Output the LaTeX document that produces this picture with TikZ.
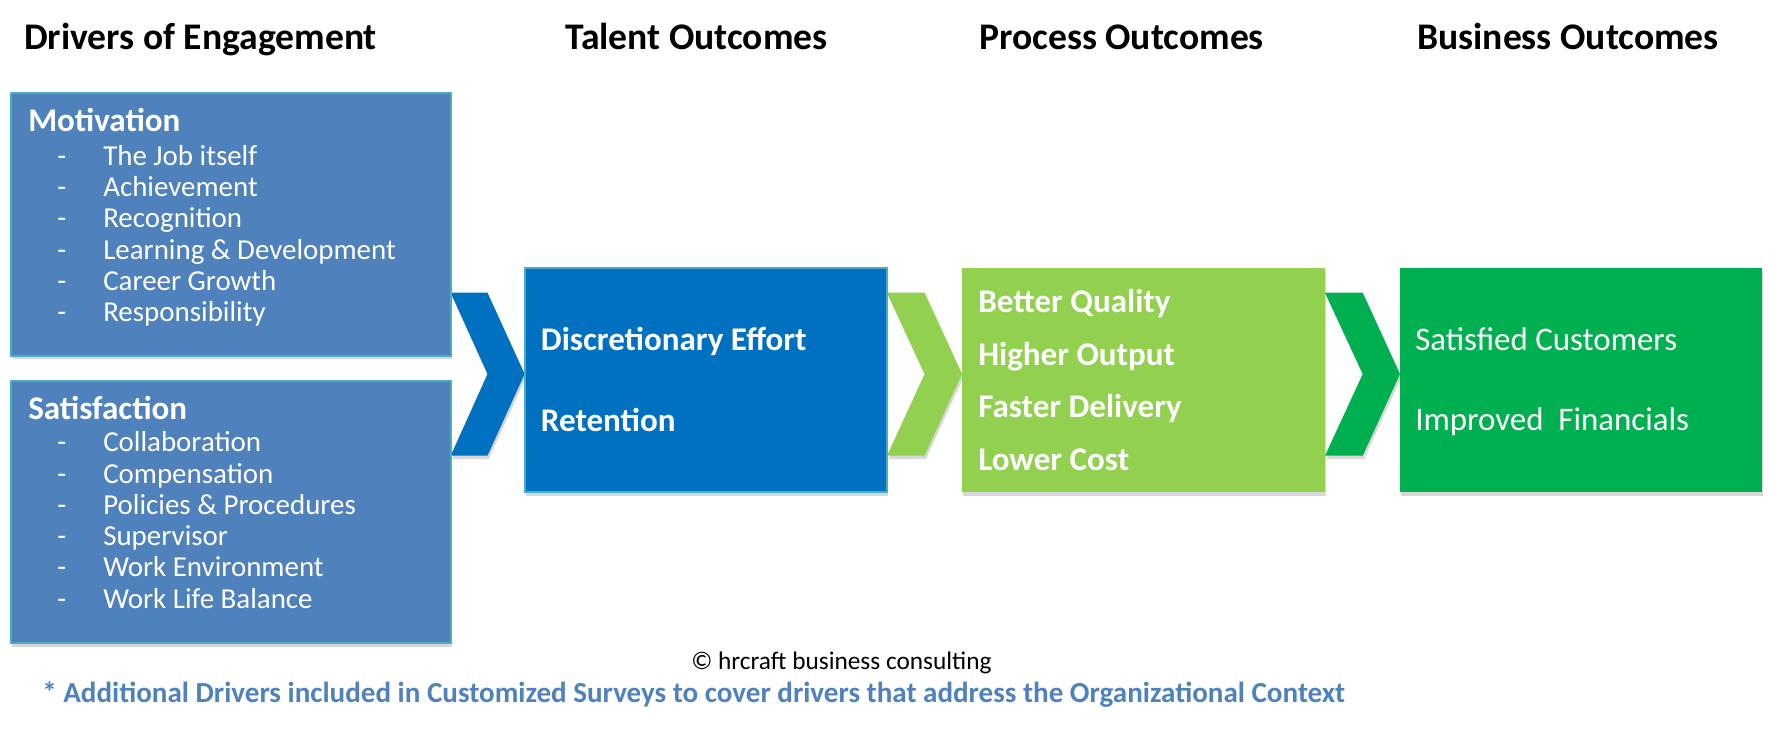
\documentclass[tikz,border=0pt]{standalone}
\usepackage{fontspec}
\setmainfont{Carlito}
\usetikzlibrary{fit,shadows}
\definecolor{motblue}{HTML}{4F81BD}
\definecolor{edgecyan}{HTML}{4BACC6}
\definecolor{talblue}{HTML}{0070C0}
\definecolor{procgreen}{HTML}{92D050}
\definecolor{busgreen}{HTML}{00B050}
\begin{document}
\begin{tikzpicture}[x=0.75pt,y=-0.75pt,
  shade/.style={drop shadow={shadow xshift=1pt, shadow yshift=-2.5pt, opacity=0.3}},
  cbox/.style={draw=edgecyan, line width=1.5pt, inner sep=0pt, shade},
  gbox/.style={draw=none, inner sep=0pt, shade},
  chev/.style={shade},
  lbl/.style={anchor=base west, inner sep=0pt, text=white},
  title/.style={anchor=base west, inner sep=0pt, font=\bfseries\fontsize{28.2}{33}\selectfont},
  head/.style={lbl, font=\bfseries\fontsize{24.8}{29}\selectfont},
  item/.style={lbl, font=\fontsize{21.7}{26}\selectfont},
  big/.style={lbl, font=\bfseries\fontsize{24.8}{29}\selectfont},
  bigr/.style={lbl, font=\fontsize{24.7}{29}\selectfont}]
\useasboundingbox (0,0) rectangle (1769,728);
\fill[white] (0,0) rectangle (1769,728);

% titles
\node[title] (t1) at (24,49) {Drivers of Engagement};
\node[title] (t2) at (565,49) {Talent Outcomes};
\node[title] (t3) at (979,49) {Process Outcomes};
\node[title] (t4) at (1417,49) {Business Outcomes};

% chevrons
\fill[talblue, chev] (450.7,292.7) -- (487.5,292.7) -- (524.6,374) -- (487.5,455.7) -- (450.7,455.7) -- (487.5,374) -- cycle;
\fill[procgreen, chev] (887,292.7) -- (924.6,292.7) -- (962,374) -- (924.6,455.7) -- (887,455.7) -- (924.6,374) -- cycle;
\fill[busgreen, chev] (1325,292.7) -- (1362.7,292.7) -- (1400,374) -- (1362.7,455.7) -- (1325,455.7) -- (1362.7,374) -- cycle;

% boxes
\node[cbox, fill=motblue, fit={(11,92.7) (450.7,356)}] (mot) {};
\node[cbox, fill=motblue, fit={(11,380.7) (450.7,643.3)}] (sat) {};
\node[cbox, fill=talblue, fit={(524.6,268.3) (887,492.3)}] (tal) {};
\node[gbox, fill=procgreen, fit={(962,268.3) (1325,492.3)}] (pro) {};
\node[gbox, fill=busgreen, fit={(1400,268.3) (1761.7,492.3)}] (bus) {};

% motivation
\node[head] (moth) at (28,131.7) {Motivation};
\foreach \t [count=\i] in {The Job itself, Achievement, Recognition, Learning \& Development, Career Growth, Responsibility}{
  \node[item] (motd\i) at (57,{165+31.35*(\i-1)}) {-};
  \node[item] (moti\i) at (103,{165+31.35*(\i-1)}) {\t};
}
% satisfaction
\node[head] (sath) at (28,419.3) {Satisfaction};
\foreach \t [count=\i] in {Collaboration, Compensation, Policies \& Procedures, Supervisor, Work Environment, Work Life Balance}{
  \node[item] (satd\i) at (57,{451.7+31.3*(\i-1)}) {-};
  \node[item] (sati\i) at (103,{451.7+31.3*(\i-1)}) {\t};
}

% talent
\node[big] (tal1) at (540.7,350) {Discretionary Effort};
\node[big] (tal2) at (540.7,431) {Retention};
% process
\node[big] (pro1) at (978,312.3) {Better Quality};
\node[big] (pro2) at (978,365.3) {Higher Output};
\node[big] (pro3) at (978,417.5) {Faster Delivery};
\node[big] (pro4) at (978,470) {Lower Cost};
% business
\node[bigr] (bus1) at (1415,350) {Satisfied Customers};
\node[bigr] (bus2) at (1415,430) {Improved\hspace{0.45em}Financials};

% footer
\node[anchor=base west, inner sep=0pt, font=\fontsize{19}{23}\selectfont] (copy) at (691,669) {© hrcraft business consulting};
\node[anchor=base west, inner sep=0pt, text=motblue, font=\bfseries\fontsize{21.8}{25}\selectfont] (note) at (42,702) {* Additional Drivers included in Customized Surveys to cover drivers that address the Organizational Context};
\end{tikzpicture}
\end{document}
